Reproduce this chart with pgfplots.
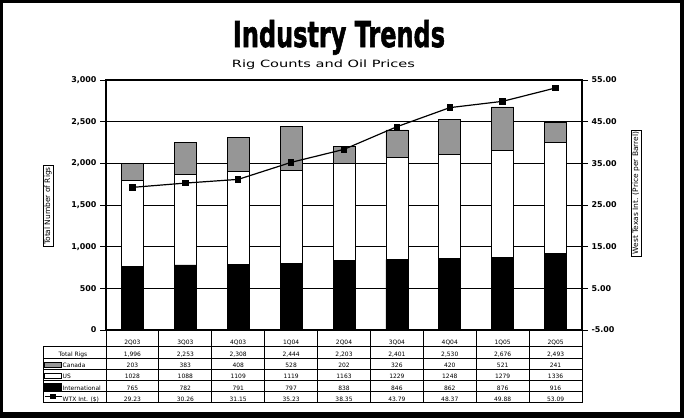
\documentclass[border=0pt]{standalone}
\usepackage{pgfplots}
\pgfplotsset{compat=1.18}
\usepackage{pgfplotstable}
\usepackage{fontspec}
\setmainfont{DejaVu Sans}
\newfontfamily\titlefont{DejaVu Sans Bold}[FakeBold=2]
\newfontfamily\dejavu{DejaVu Sans}
\newcommand\ticks{\dejavu\bfseries\fontsize{8}{9}\selectfont}
\newcommand\tabfont{\dejavu\fontsize{6}{7}\selectfont}
\definecolor{cgray}{RGB}{150,150,150}

\pgfplotstableread{
x intl us canada total wtx
0 765 1028 203 1996 29.23
1 782 1088 383 2253 30.26
2 791 1109 408 2308 31.15
3 797 1119 528 2444 35.23
4 838 1163 202 2203 38.35
5 846 1229 326 2401 43.79
6 862 1248 420 2530 48.37
7 876 1279 521 2676 49.88
8 916 1336 241 2493 53.09
}\data

\begin{document}
\begin{tikzpicture}[x=1bp,y=1bp]
\useasboundingbox (0,0) rectangle (684,418);
\fill[black] (0,0) rectangle (684,418);
\fill[white] (3,6) rectangle (680,414.5);

% titles
\node[anchor=base, inner sep=0] at (339,371) {\resizebox{212bp}{27bp}{\titlefont Industry Trends}};
\node[anchor=base, inner sep=0] at (323.5,351) {\resizebox{183bp}{7.6bp}{\dejavu Rig Counts and Oil Prices}};

\begin{axis}[
  at={(106bp,88bp)}, anchor=south west, scale only axis,
  width=476bp, height=250bp,
  xmin=-0.5, xmax=8.5, ymin=0, ymax=3000,
  xtick=\empty, ytick={0,500,...,3000}, ytick pos=left,
  tick align=outside, major tick length=6bp,
  ymajorgrids, grid style={black, line width=0.7bp},
  axis line style={line width=1.6bp},
  tick style={black, line width=0.8bp},
  ybar stacked, bar width=22bp,
  /pgf/number format/assume math mode=true,
  yticklabel style={font=\ticks, /pgf/number format/1000 sep={,}},
]
\addplot[fill=black, draw=black, line width=0.6bp] table[x=x,y=intl]{\data};
\addplot[fill=white, draw=black, line width=0.6bp] table[x=x,y=us]{\data};
\addplot[fill=cgray, draw=black, line width=0.6bp] table[x=x,y=canada]{\data};
\end{axis}

\begin{axis}[
  at={(106bp,88bp)}, anchor=south west, scale only axis,
  width=476bp, height=250bp,
  xmin=-0.5, xmax=8.5, ymin=-5, ymax=55,
  axis x line=none, axis y line*=right,
  ytick={-5,5,...,55},
  tick align=outside, major tick length=6bp,
  axis line style={-, line width=1.6bp},
  tick style={black, line width=0.8bp},
  /pgf/number format/assume math mode=true,
  yticklabel style={font=\ticks, /pgf/number format/.cd, fixed, fixed zerofill, precision=2},
]
\addplot[black, line width=1.2bp, mark=square*, mark size=2.6bp] table[x=x,y=wtx]{\data};
\end{axis}

% axis titles
\node[draw, line width=0.6bp, rotate=90, inner sep=1.5bp, font=\dejavu\fontsize{7.5}{8}\selectfont] at (48,212) {Total Number of Rigs};
\node[draw, line width=0.6bp, rotate=90, inner sep=1.5bp, font=\dejavu\fontsize{7.5}{8}\selectfont] at (636,225) {West Texas Int. (Price per Barrel)};

% data table grid
\foreach \yy in {346.7,358,369,380.5,391.7,402.7}
  \draw[line width=0.8bp] (43,{418-\yy}) -- (582,{418-\yy});
\foreach \k in {0,...,9}
  \draw[line width=0.8bp] ({106+52.889*\k},88) -- ({106+52.889*\k},15.3);
\draw[line width=0.8bp] (43,71.3) -- (43,15.3);

% table text
\foreach \lab [count=\i from 0] in {2Q03,3Q03,4Q03,1Q04,2Q04,3Q04,4Q04,1Q05,2Q05}
  \node[anchor=base, inner sep=0, font=\tabfont] at ({106+52.889*(\i+0.5)},{418-344.5}) {\lab};
\foreach \lab [count=\i from 0] in {{1,996},{2,253},{2,308},{2,444},{2,203},{2,401},{2,530},{2,676},{2,493}}
  \node[anchor=base, inner sep=0, font=\tabfont] at ({106+52.889*(\i+0.5)},{418-356.2}) {\lab};
\foreach \lab [count=\i from 0] in {203,383,408,528,202,326,420,521,241}
  \node[anchor=base, inner sep=0, font=\tabfont] at ({106+52.889*(\i+0.5)},{418-367.3}) {\lab};
\foreach \lab [count=\i from 0] in {1028,1088,1109,1119,1163,1229,1248,1279,1336}
  \node[anchor=base, inner sep=0, font=\tabfont] at ({106+52.889*(\i+0.5)},{418-378.8}) {\lab};
\foreach \lab [count=\i from 0] in {765,782,791,797,838,846,862,876,916}
  \node[anchor=base, inner sep=0, font=\tabfont] at ({106+52.889*(\i+0.5)},{418-390}) {\lab};
\foreach \lab [count=\i from 0] in {29.23,30.26,31.15,35.23,38.35,43.79,48.37,49.88,53.09}
  \node[anchor=base, inner sep=0, font=\tabfont] at ({106+52.889*(\i+0.5)},{418-401}) {\lab};

% row labels
\node[anchor=base, inner sep=0, font=\tabfont] at (73,{418-356.2}) {Total Rigs};
\node[anchor=base west, inner sep=0, font=\tabfont] at (62.5,{418-367.3}) {Canada};
\node[anchor=base west, inner sep=0, font=\tabfont] at (62.5,{418-378.8}) {US};
\node[anchor=base west, inner sep=0, font=\tabfont] at (62.5,{418-390}) {International};
\node[anchor=base west, inner sep=0, font=\tabfont] at (62.5,{418-401}) {WTX Int. (\$)};

% legend keys
\filldraw[fill=cgray, draw=black, line width=0.6bp] (44.5,{418-367}) rectangle (61.5,{418-362.5});
\filldraw[fill=white, draw=black, line width=0.6bp] (44.5,{418-378}) rectangle (61.5,{418-373.5});
\filldraw[fill=black, draw=black, line width=0.6bp] (44.5,{418-390}) rectangle (61.5,{418-383.5});
\draw[line width=1.2bp] (44.5,{418-396.7}) -- (61.5,{418-396.7});
\fill[black] (50.4,{418-399.3}) rectangle (55.6,{418-394.1});
\end{tikzpicture}
\end{document}
